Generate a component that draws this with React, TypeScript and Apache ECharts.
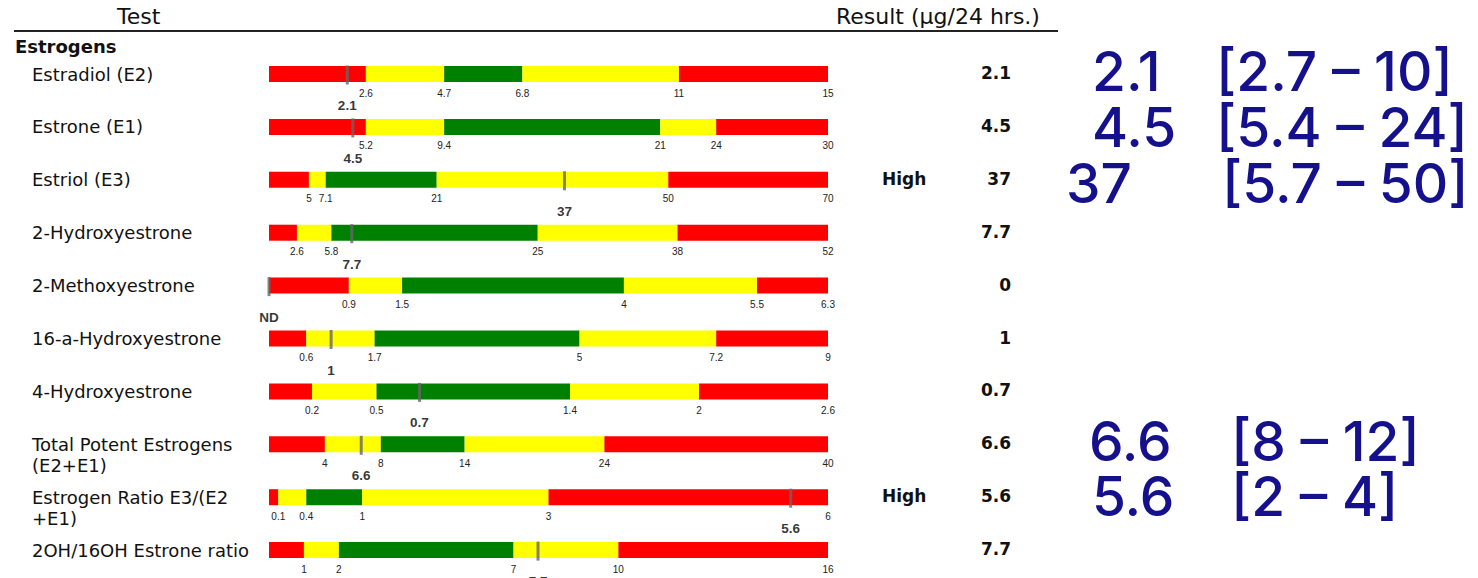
import React, { useEffect, useRef } from 'react';
import * as echarts from 'echarts';

const testNames = [
  'Estradiol (E2)',
  'Estrone (E1)',
  'Estriol (E3)',
  '2-Hydroxyestrone',
  '2-Methoxyestrone',
  '16-a-Hydroxyestrone',
  '4-Hydroxyestrone',
  'Total Potent Estrogens\n(E2+E1)',
  'Estrogen Ratio E3/(E2\n+E1)',
  '2OH/16OH Estrone ratio',
];

// segment upper bounds (last one is the axis max)
const bounds = [
  [2.6, 4.7, 6.8, 11, 15],
  [5.2, 9.4, 21, 24, 30],
  [5, 7.1, 21, 50, 70],
  [2.6, 5.8, 25, 38, 52],
  [0.9, 1.5, 4, 5.5, 6.3],
  [0.6, 1.7, 5, 7.2, 9],
  [0.2, 0.5, 1.4, 2, 2.6],
  [4, 8, 14, 24, 40],
  [0.1, 0.4, 1, 3, 6],
  [1, 2, 7, 10, 16],
];

const segColors = ['#ff0000', '#ffff00', '#008000', '#ffff00', '#ff0000'];

const results = [2.1, 4.5, 37, 7.7, 0, 1, 0.7, 6.6, 5.6, 7.7];
const markerLabels = ['2.1', '4.5', '37', '7.7', 'ND', '1', '0.7', '6.6', '5.6', '7.7'];
const resultTexts = ['2.1', '4.5', '37', '7.7', '0', '1', '0.7', '6.6', '5.6', '7.7'];
const flags = ['', '', 'High', '', '', '', '', '', 'High', ''];

const annotValues = ['2.1', '4.5', '37', '6.6', '5.6'];
const annotRanges = ['[2.7 – 10]', '[5.4 – 24]', '[5.7 – 50]', '[8 – 12]', '[2 – 4]'];

// layout
const ROW0 = 74;
const ROWH = 52.9;
const BAR_LEFT = 269;
const BAR_WIDTH = 559;
const BAR_H = 16;
const annotNumX = [1092, 1092, 1066, 1089, 1092];
const annotRangeX = [1216, 1216, 1222, 1231, 1231];
const annotY = [71, 127, 183, 441, 496];

const rowY = (i: number) => ROW0 + ROWH * i;

export default function App() {
  const ref = useRef<HTMLDivElement>(null);

  useEffect(() => {
    if (!ref.current) return;
    const chart = echarts.init(ref.current, undefined, { renderer: 'svg' });

    const grids: any[] = [];
    const xAxes: any[] = [];
    const yAxes: any[] = [];
    const series: any[] = [];

    bounds.forEach((b, i) => {
      const cy = rowY(i);
      grids.push({ left: BAR_LEFT, width: BAR_WIDTH, top: cy - BAR_H / 2, height: BAR_H, containLabel: false });
      xAxes.push({
        type: 'value',
        gridIndex: i,
        min: 0,
        max: b[b.length - 1],
        axisLine: { show: false },
        axisTick: { show: false },
        splitLine: { show: false },
        axisLabel: {
          show: true,
          customValues: b,
          margin: 6,
          fontSize: 10,
          color: '#222',
          fontFamily: 'Liberation Sans',
        },
      });
      yAxes.push({ type: 'category', gridIndex: i, data: ['r'], show: false });
      let prev = 0;
      b.forEach((v, j) => {
        series.push({
          type: 'bar',
          xAxisIndex: i,
          yAxisIndex: i,
          stack: 's' + i,
          barWidth: BAR_H,
          silent: true,
          itemStyle: { color: segColors[j] },
          data: [+(v - prev).toFixed(4)],
        });
        prev = v;
      });
      series.push({
        type: 'scatter',
        xAxisIndex: i,
        yAxisIndex: i,
        symbol: 'rect',
        symbolSize: [3, 19],
        symbolOffset: [0, 1],
        clip: false,
        silent: true,
        z: 5,
        itemStyle: { color: '#666' },
        label: {
          show: true,
          position: 'bottom',
          distance: 14,
          formatter: markerLabels[i],
          fontSize: 13.5,
          fontWeight: 'bold',
          color: '#000',
          fontFamily: 'Liberation Sans',
        },
        data: [[results[i], 'r']],
      });
    });

    const graphics: any[] = [];
    const txt = (x: number, y: number, text: string, o: any) => ({
      type: 'text',
      x,
      y,
      silent: true,
      style: {
        text,
        fill: o.fill || '#111',
        fontSize: o.fontSize,
        fontFamily: o.fontFamily || 'DejaVu Sans',
        fontWeight: o.fontWeight || 'normal',
        align: o.align || 'left',
        textAlign: o.align || 'left',
        verticalAlign: o.va || 'middle',
        textVerticalAlign: o.va || 'middle',
        lineHeight: o.lineHeight,
      },
    });

    graphics.push(txt(117, 16, 'Test', { fontSize: 22 }));
    graphics.push(txt(836, 16, 'Result (µg/24 hrs.)', { fontSize: 22 }));
    graphics.push({
      type: 'line',
      silent: true,
      shape: { x1: 14, y1: 31, x2: 1058, y2: 31 },
      style: { stroke: '#222', lineWidth: 2 },
    });
    graphics.push(txt(15, 46, 'Estrogens', { fontSize: 18, fontWeight: 'bold' }));

    testNames.forEach((n, i) => {
      const cy = rowY(i);
      graphics.push(txt(32, cy - 10.5, n, { fontSize: 18, va: 'top', lineHeight: 21 }));
      graphics.push(txt(1011, cy - 1, resultTexts[i], { fontSize: 17, fontWeight: 'bold', align: 'right' }));
      if (flags[i]) graphics.push(txt(882, cy - 1, flags[i], { fontSize: 17, fontWeight: 'bold' }));
    });

    annotValues.forEach((v, k) => {
      graphics.push(txt(annotNumX[k], annotY[k], v, { fontSize: 55, fontWeight: 500, fontFamily: 'Inter', fill: '#15108c' }));
      graphics.push(txt(annotRangeX[k], annotY[k], annotRanges[k], { fontSize: 55, fontWeight: 500, fontFamily: 'Inter', fill: '#15108c' }));
    });

    chart.setOption({
      animation: false,
      backgroundColor: '#ffffff',
      grid: grids,
      xAxis: xAxes,
      yAxis: yAxes,
      series,
      graphic: { elements: graphics },
    });

    return () => chart.dispose();
  }, []);

  return (
    <div
      ref={ref}
      style={{ position: 'fixed', left: 0, top: 0, width: 1478, height: 578 }}
    />
  );
}
